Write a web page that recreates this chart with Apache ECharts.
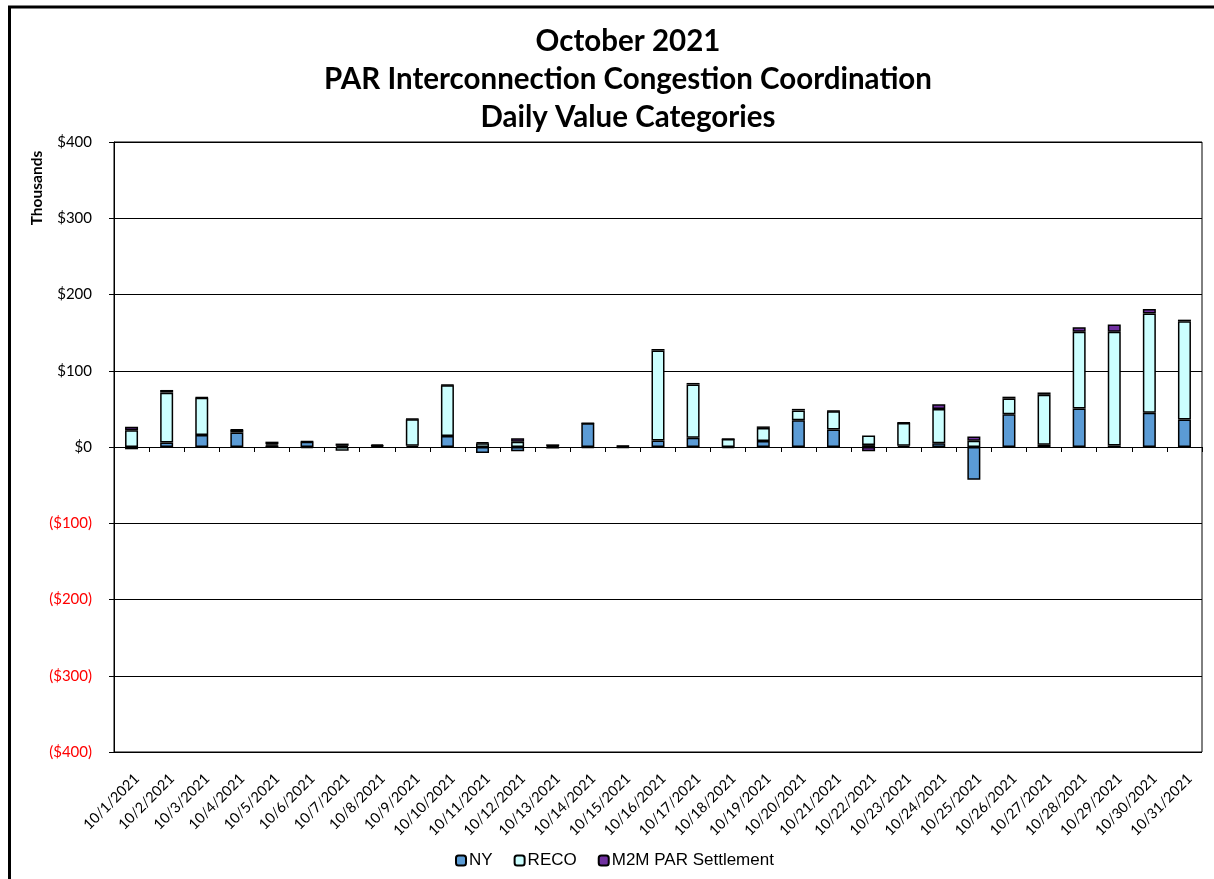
<!DOCTYPE html>
<html>
<head>
<meta charset="utf-8">
<script src="https://cdn.jsdelivr.net/npm/echarts@6/dist/echarts.min.js"></script>
<style>html,body{margin:0;padding:0;background:#fff;}#c{width:1214px;height:879px;}</style>
</head>
<body>
<div id="c"></div>
<script>
const categories = ['10/1/2021','10/2/2021','10/3/2021','10/4/2021','10/5/2021','10/6/2021','10/7/2021','10/8/2021','10/9/2021','10/10/2021','10/11/2021','10/12/2021','10/13/2021','10/14/2021','10/15/2021','10/16/2021','10/17/2021','10/18/2021','10/19/2021','10/20/2021','10/21/2021','10/22/2021','10/23/2021','10/24/2021','10/25/2021','10/26/2021','10/27/2021','10/28/2021','10/29/2021','10/30/2021','10/31/2021'];
const NY   = [-3, 5.8, 15.7, 19, 2, 7, 1.5, 1.5, 1.5, 14.4, -8, -5.5, -2, 31, -1, 8.5, 12, -1.5, 8, 35, 23, 2.5, 1.5, 5, -43, 43, 3, 50.5, 2, 45, 36];
const RECO = [22, 65.5, 49, 3.5, 1.5, -1.5, -5, 0.5, 35, 66.5, 5, 7, 1, -1, 1, 118, 70, 10.5, 17, 13, 24, 12.5, 30, 45, 8.3, 20.5, 65.5, 100.5, 149, 130, 129];
const M2M  = [4.5, 3.5, 0.5, 0.5, 3.5, 0.5, 3, 1.5, 0.5, 0.5, 1, 4.5, 2.5, 0.3, 0.5, 2, 2, 0.3, 2, 2, 0.3, -5.5, 0.3, 6, 5.5, 2.5, 3, 6, 9.5, 6, 2];
const titleLines = ['October 2021', 'PAR Interconnection Congestion Coordination', 'Daily Value Categories'];

const chart = echarts.init(document.getElementById('c'));
const bar = (name, data, color) => ({
  name, type: 'bar', stack: 'total', data, barWidth: 13,
  itemStyle: { color, borderColor: '#000', borderWidth: 1.5 }
});
chart.setOption({
  animation: false,
  graphic: [
    { type: 'rect', shape: { x: 9.5, y: 7, width: 1400, height: 1000 }, style: { fill: 'none', stroke: '#000', lineWidth: 3 }, silent: true },
    { type: 'text', x: 628, y: 22, style: { text: titleLines.join('\n'), fontFamily: 'Lato', fontWeight: 'bold', fontSize: 29.5, lineHeight: 38, fill: '#000', align: 'center', verticalAlign: 'top' } },
    { type: 'text', x: 37, y: 188, rotation: Math.PI / 2, style: { text: 'Thousands', fontFamily: 'Lato', fontWeight: 'bold', fontSize: 15.5, fill: '#000', align: 'center', verticalAlign: 'middle' } }
  ],
  legend: {
    top: 852, left: 455, padding: 0, itemWidth: 10, itemHeight: 10, itemGap: 21,
    textStyle: { fontFamily: 'Liberation Sans', fontSize: 17, color: '#000', padding: [0, 0, 0, -2] },
    data: ['NY', 'RECO', 'M2M PAR Settlement']
  },
  grid: { left: 114, right: 12, top: 142, bottom: 127, show: true, borderColor: '#000', borderWidth: 1 },
  xAxis: {
    type: 'category', data: categories,
    axisLine: { onZero: true, lineStyle: { color: '#000', width: 1 } },
    axisTick: { show: true, alignWithLabel: false, length: 5, lineStyle: { color: '#000' } },
    axisLabel: {
      interval: 0, rotate: 45, margin: 19, verticalAlign: 'top',
      fontFamily: 'Lato', fontSize: 14.5, color: '#000'
    }
  },
  yAxis: {
    type: 'value', min: -400, max: 400, interval: 100,
    axisLine: { show: true, lineStyle: { color: '#000' } },
    axisTick: { show: true, length: 5, lineStyle: { color: '#000' } },
    splitLine: { lineStyle: { color: '#000', width: 1 } },
    axisLabel: {
      margin: 22, fontFamily: 'Lato', fontSize: 15,
      color: v => (v < 0 ? '#ff0000' : '#000'),
      formatter: v => (v < 0 ? '($' + (-v) + ')' : '$' + v)
    }
  },
  series: [
    bar('NY', NY, '#5b9bd5'),
    bar('RECO', RECO, '#ccffff'),
    bar('M2M PAR Settlement', M2M, '#7030a0')
  ]
});
</script>
</body>
</html>
